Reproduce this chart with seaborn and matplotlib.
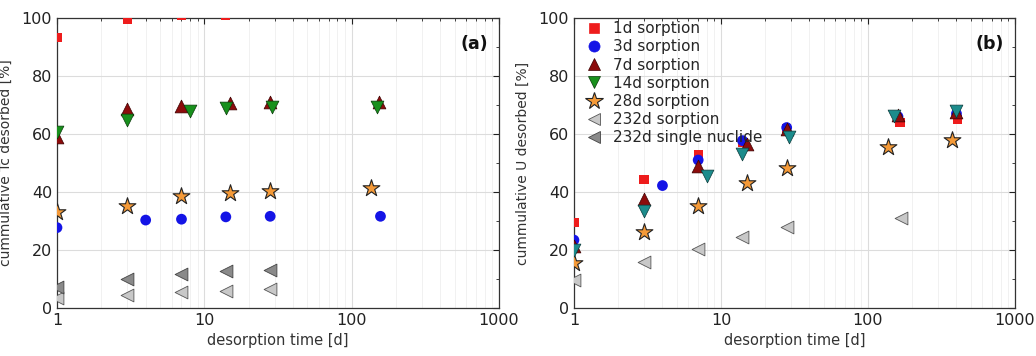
import numpy as np
import pandas as pd
import matplotlib
matplotlib.use("Agg")
import matplotlib.pyplot as plt
from matplotlib.lines import Line2D
from matplotlib.ticker import MultipleLocator
import seaborn as sns

sns.set_style("white")
plt.rcParams['font.family'] = ['DejaVu Sans']

# ---------------- data: panel (a) Tc ----------------
tc_1d_t = [1, 3, 7, 14]
tc_1d_v = [93.2, 99.6, 100.8, 100.8]
tc_3d_t = [1, 4, 7, 14, 28, 157]
tc_3d_v = [27.7, 30.3, 30.6, 31.4, 31.6, 31.6]
tc_7d_t = [1, 3, 7, 15, 28, 154]
tc_7d_v = [58.8, 68.5, 69.7, 70.6, 71.0, 71.0]
tc_14d_t = [1, 3, 8, 14, 29, 148]
tc_14d_v = [60.5, 64.8, 67.9, 68.8, 69.4, 69.4]
tc_28d_t = [1, 3, 7, 15, 28, 135]
tc_28d_v = [33.0, 35.3, 38.6, 39.8, 40.3, 41.5]
tc_232d_t = [1, 3, 7, 14, 28]
tc_232d_v = [3.6, 4.5, 5.4, 6.0, 6.4]
tc_232s_t = [1, 3, 7, 14, 28]
tc_232s_v = [7.1, 9.9, 11.6, 12.7, 13.1]

# ---------------- data: panel (b) U ----------------
u_1d_t = [1, 3, 7, 14, 28, 165, 407]
u_1d_v = [29.5, 44.4, 52.8, 57.0, 61.8, 64.0, 65.0]
u_3d_t = [1, 4, 7, 14, 28, 160, 400]
u_3d_v = [23.4, 42.2, 51.0, 57.7, 62.2, 66.0, 67.0]
u_7d_t = [1, 3, 7, 15, 28, 160, 400]
u_7d_v = [21.4, 37.6, 49.0, 56.6, 61.6, 66.6, 67.5]
u_14d_t = [1, 3, 8, 14, 29, 151, 400]
u_14d_v = [20.0, 33.6, 45.5, 53.0, 59.1, 66.3, 67.9]
u_28d_t = [1, 3, 7, 15, 28, 136, 372]
u_28d_v = [15.4, 26.1, 35.3, 43.2, 48.4, 55.4, 57.9]
u_232d_t = [1, 3, 7, 14, 28, 169]
u_232d_v = [9.7, 15.8, 20.3, 24.4, 28.0, 30.9]

labels = ["1d sorption", "3d sorption", "7d sorption", "14d sorption",
          "28d sorption", "232d sorption", "232d single nuclide"]

RED = "#ee1c1c"
BLUE = "#1414e6"
DRED = "#8c0c0c"
GREEN = "#18901c"
TEAL = "#1c8c8c"
ORANGE = "#f59a38"
LGRAY = "#c8c8c8"
DGRAY = "#8a8a8a"

styles = {
    "1d sorption": dict(marker="s", color=RED, s=45, edgecolor="none"),
    "3d sorption": dict(marker="o", color=BLUE, s=60, edgecolor="none"),
    "7d sorption": dict(marker="^", color=DRED, s=85, edgecolor="#3a0000", linewidth=0.5),
    "14d sorption": dict(marker="v", color=GREEN, s=85, edgecolor="#0a3a0a", linewidth=0.5),
    "28d sorption": dict(marker="*", color=ORANGE, s=160, edgecolor="#222222", linewidth=0.8),
    "232d sorption": dict(marker="<", color=LGRAY, s=85, edgecolor="#555555", linewidth=0.6),
    "232d single nuclide": dict(marker="<", color=DGRAY, s=85, edgecolor="#444444", linewidth=0.6),
}

panel_a = [
    ("1d sorption", tc_1d_t, tc_1d_v),
    ("3d sorption", tc_3d_t, tc_3d_v),
    ("232d sorption", tc_232d_t, tc_232d_v),
    ("232d single nuclide", tc_232s_t, tc_232s_v),
    ("28d sorption", tc_28d_t, tc_28d_v),
    ("7d sorption", tc_7d_t, tc_7d_v),
    ("14d sorption", tc_14d_t, tc_14d_v),
]
panel_b = [
    ("232d sorption", u_232d_t, u_232d_v),
    ("28d sorption", u_28d_t, u_28d_v),
    ("1d sorption", u_1d_t, u_1d_v),
    ("3d sorption", u_3d_t, u_3d_v),
    ("7d sorption", u_7d_t, u_7d_v),
    ("14d sorption", u_14d_t, u_14d_v),
]

fig = plt.figure(figsize=(10.36, 3.56), dpi=100)
axA = fig.add_axes([0.055, 0.135, 0.4266, 0.8146])
axB = fig.add_axes([0.554, 0.135, 0.4257, 0.8146])


def draw(ax, series, overrides=None):
    overrides = overrides or {}
    for name, t, v in series:
        st = dict(styles[name])
        st.update(overrides.get(name, {}))
        df = pd.DataFrame({"t": t, "v": v})
        sns.scatterplot(data=df, x="t", y="v", ax=ax, zorder=3, legend=False,
                        clip_on=True, **st)


draw(axA, panel_a)
draw(axB, panel_b, {"14d sorption": dict(color=TEAL, edgecolor="#0a3a3a")})

for ax, ylab, tag in [(axA, "cummulative Tc desorbed [%]", "(a)"),
                      (axB, "cummulative U desorbed [%]", "(b)")]:
    ax.set_xscale("log")
    ax.set_xlim(1, 1000)
    ax.set_ylim(0, 100)
    ax.yaxis.set_major_locator(MultipleLocator(20))
    ax.yaxis.set_minor_locator(MultipleLocator(10))
    ax.set_xticks([1, 10, 100, 1000])
    ax.set_xticklabels(["1", "10", "100", "1000"])
    ax.grid(True, which="major", color="#dcdcdc", linewidth=0.8)
    ax.grid(True, which="minor", axis="x", color="#efefef", linewidth=0.6)
    ax.tick_params(axis="both", which="both", direction="in", top=True, right=True,
                   labelsize=11.5, colors="#222222", labelcolor="#222222")
    ax.tick_params(which="major", length=4)
    ax.tick_params(which="minor", length=2.5)
    for sp in ax.spines.values():
        sp.set_color("#333333")
        sp.set_linewidth(0.9)
    ax.set_xlabel("desorption time [d]", fontsize=10.5, color="#333333", labelpad=4)
    ax.set_ylabel(ylab, fontsize=10, color="#333333", labelpad=6)
    ax.text(0.975, 0.94, tag, transform=ax.transAxes, ha="right", va="top",
            fontsize=12.5, fontweight="bold", color="#111111")

handles = []
for name in labels:
    st = styles[name]
    msize = {"s": 6.5, "o": 8, "^": 9, "v": 9, "*": 13, "<": 9}[st["marker"]]
    handles.append(Line2D([], [], linestyle="none", marker=st["marker"],
                          markerfacecolor=st["color"],
                          markeredgecolor=st["edgecolor"] if st["edgecolor"] != "none" else st["color"],
                          markeredgewidth=st.get("linewidth", 0.5), markersize=msize))
axB.legend(handles, labels, loc="upper left", frameon=False, fontsize=11,
           handletextpad=0.7, handlelength=1.2, labelspacing=0.21,
           borderaxespad=0.0, bbox_to_anchor=(0.01, 1.01))

fig.savefig("out.png", dpi=100)
